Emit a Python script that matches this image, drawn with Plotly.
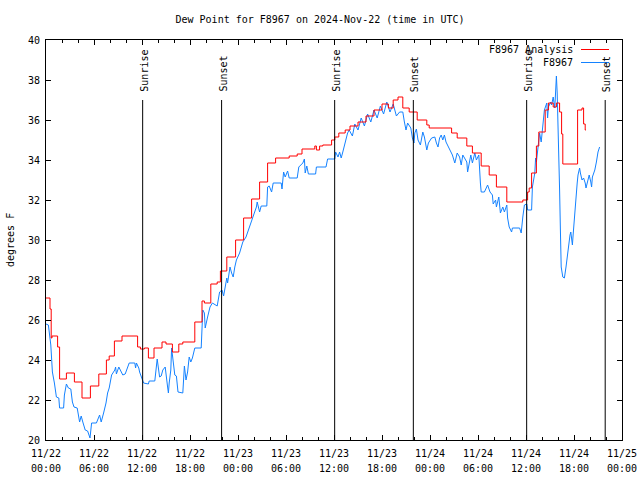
import plotly.graph_objects as go
import pandas as pd

START = pd.Timestamp("2024-11-22 00:00")

# F8967 Analysis (step series): hours since start, dew point (F)
analysis_hours = [0.0, 0.5, 0.65, 0.75, 1.45, 1.7, 2.55, 3.55, 4.5, 5.55, 6.6, 7.55, 7.9, 8.55, 9.5,
                  11.45, 11.8, 12.3, 12.8, 13.5, 14.5, 15.0, 15.8, 16.6, 17.1, 18.6, 19.5, 19.8, 20.6,
                  21.4, 21.8, 22.6, 23.7, 24.7, 25.7, 26.7, 27.7, 28.7, 30.4, 31.4, 32.0, 33.6, 33.8,
                  34.2, 34.6, 35.7, 36.1, 36.6, 37.4, 38.0, 39.0, 40.0, 41.0, 42.0, 42.8, 43.4, 44.0,
                  44.6, 45.4, 46.4, 47.6, 47.9, 50.7, 51.4, 52.6, 53.3, 54.4, 55.4, 56.3, 57.6, 59.6,
                  60.2, 60.4, 60.7, 61.3, 61.6, 62.1, 62.4, 62.8, 63.4, 63.8, 64.2, 64.45, 64.6, 66.45,
                  67.0, 67.2, 67.4, 67.5]
analysis_vals = [27.1, 26.55, 25.1, 25.2, 24.65, 23.05, 23.35, 22.9, 22.1, 22.7, 23.3, 24.0, 24.2, 24.95, 25.2,
                 24.65, 24.55, 24.6, 24.1, 24.6, 24.9, 24.8, 24.4, 24.8, 24.9, 25.9, 26.95, 26.85, 27.8,
                 27.9, 28.45, 29.15, 30.0, 31.1, 32.05, 32.9, 33.85, 34.1, 34.2, 34.3, 34.55, 34.7, 34.5,
                 34.7, 34.75, 35.0, 35.15, 35.35, 35.5, 35.7, 35.9, 36.2, 36.5, 36.8, 36.6, 37.0, 37.15,
                 36.6, 36.4, 36.0, 35.75, 35.6, 35.35, 35.1, 34.7, 34.35, 33.7, 33.25, 32.65, 31.9, 32.0,
                 32.4, 32.6, 33.35, 34.7, 35.4, 35.4, 36.5, 36.85, 36.65, 36.85, 36.4, 35.3, 33.8, 36.5,
                 36.6, 35.8, 35.5, 35.5]

# F8967 observations
obs_hours = [0.0, 0.3, 0.6, 0.7, 0.8, 1.05, 1.3, 1.6, 1.7, 2.2, 2.3, 2.55, 2.8, 3.1, 3.3, 3.5, 3.9, 4.2, 4.4,
             4.6, 4.9, 5.2, 5.5, 5.7, 6.3, 6.7, 6.9, 7.2, 7.5, 7.7, 7.9, 8.2, 8.6, 8.7, 8.8, 9.1, 9.4, 9.6,
             9.9, 10.2, 10.4, 11.1, 11.2, 11.3, 11.6, 11.7, 11.9, 12.2, 12.8, 12.9, 13.6, 13.8, 13.9, 14.2,
             14.4, 14.6, 14.9, 15.2, 15.3, 15.4, 15.6, 15.7, 15.8, 16.1, 16.3, 16.5, 17.1, 17.2, 17.3, 17.5,
             17.7, 17.9, 18.1, 18.3, 18.6, 19.4, 19.6, 19.8, 19.9, 20.2, 20.5, 20.8, 21.2, 21.4, 21.7, 22.0,
             22.2, 22.6, 22.7, 23.0, 23.2, 23.4, 23.6, 23.8, 24.2, 24.6, 25.0, 25.4, 25.8, 26.3, 26.4, 26.7,
             26.9, 27.6, 27.7, 27.9, 28.2, 28.4, 29.4, 29.5, 29.7, 29.9, 30.2, 30.4, 31.4, 31.6, 32.1, 32.3,
             32.4, 32.6, 32.8, 33.7, 33.8, 35.0, 35.2, 36.1, 36.2, 36.5, 36.7, 36.9, 37.1, 37.4, 37.7, 37.9,
             38.3, 38.6, 39.0, 39.4, 39.8, 40.2, 40.6, 41.0, 41.4, 41.8, 42.2, 42.6, 43.0, 43.4, 43.8, 44.2,
             44.6, 44.8, 45.0, 45.2, 45.6, 45.8, 46.0, 46.1, 46.3, 46.5, 46.8, 47.1, 47.3, 47.6, 47.8, 48.2,
             48.6, 48.8, 49.0, 49.2, 49.4, 49.6, 49.8, 50.0, 50.4, 50.8, 51.1, 51.4, 51.7, 51.9, 52.1, 52.6,
             52.7, 53.1, 53.3, 53.6, 53.8, 54.1, 54.3, 54.4, 54.8, 55.1, 55.2, 55.5, 55.8, 55.9, 56.2, 56.3,
             56.6, 56.8, 57.1, 57.3, 57.6, 57.7, 57.9, 58.2, 58.3, 59.2, 59.4, 59.6, 59.8, 60.1, 60.2, 60.7,
             60.8, 61.1, 61.2, 61.3, 61.5, 61.7, 61.9, 62.1, 62.2, 62.3, 62.6, 62.7, 62.8, 63.1, 63.2, 63.4,
             63.6, 63.7, 63.8, 63.9, 64.1, 64.2, 64.3, 64.4, 64.6, 64.8, 65.0, 65.1, 65.3, 65.5, 65.6, 65.8,
             65.9, 66.1, 66.3, 66.4, 66.5, 66.7, 66.8, 67.0, 67.2, 67.4, 67.5, 67.7, 67.9, 68.1, 68.2, 68.3,
             68.6, 68.8, 69.0, 69.2]
obs_vals = [25.8, 25.75, 24.75, 24.0, 23.4, 22.85, 22.15, 22.1, 21.6, 21.6, 22.25, 22.8, 22.6, 22.55, 21.9, 21.65,
            21.6, 20.9, 21.2, 20.9, 20.5, 20.45, 20.1, 20.85, 20.85, 21.25, 20.9, 21.35, 21.85, 22.35, 22.6,
            23.25, 23.5, 23.65, 23.3, 23.65, 23.35, 23.25, 23.3, 23.65, 23.85, 23.85, 23.6, 23.85, 23.6, 23.4,
            23.15, 22.85, 22.8, 22.95, 22.95, 23.65, 24.05, 23.15, 23.2, 23.5, 23.65, 22.65, 22.35, 22.85, 23.5,
            24.6, 24.25, 23.25, 23.2, 22.4, 22.35, 23.25, 23.7, 23.0, 23.4, 24.15, 23.9, 24.1, 24.6, 24.6, 26.5,
            26.35, 25.6, 26.15, 26.65, 26.85, 26.75, 26.7, 27.4, 27.5, 27.2, 28.1, 27.85, 28.65, 28.35, 28.15,
            28.65, 29.0, 29.35, 29.9, 30.15, 30.6, 31.0, 31.65, 31.9, 31.4, 31.7, 31.7, 32.65, 32.7, 32.4, 32.85,
            32.85, 32.55, 33.4, 33.15, 33.45, 33.1, 33.1, 33.65, 33.85, 34.05, 33.35, 33.7, 33.3, 33.3, 33.65,
            33.65, 34.05, 34.05, 34.4, 34.15, 34.4, 34.1, 34.4, 34.85, 35.35, 35.5, 35.2, 35.8, 35.5, 36.1, 35.7,
            36.3, 35.9, 36.5, 36.1, 36.7, 36.3, 36.9, 36.4, 36.8, 36.2, 36.4, 36.4, 35.9, 35.5, 35.85, 35.6, 35.1,
            34.85, 35.35, 35.55, 35.0, 34.75, 35.4, 35.15, 34.5, 34.85, 35.1, 35.15, 34.85, 34.65, 35.1, 35.25,
            35.0, 35.25, 34.9, 34.6, 34.25, 33.85, 34.35, 34.15, 33.75, 34.25, 33.9, 33.4, 34.25, 33.85, 34.35,
            34.0, 34.25, 32.85, 32.4, 32.4, 32.7, 32.75, 32.4, 32.25, 31.8, 32.0, 31.65, 32.15, 31.35, 31.65,
            31.4, 31.75, 31.1, 30.65, 30.4, 30.6, 30.6, 30.35, 31.15, 31.75, 31.8, 31.5, 31.5, 32.65, 33.35, 34.1,
            33.9, 34.65, 35.35, 34.9, 35.65, 35.85, 36.5, 36.85, 36.1, 36.65, 36.9, 36.75, 37.15, 36.6, 37.5,
            38.2, 37.35, 34.65, 32.5, 30.5, 28.65, 28.15, 28.1, 28.65, 29.0, 29.65, 30.25, 30.4, 29.75, 30.3,
            31.5, 32.25, 32.85, 33.25, 33.6, 33.35, 33.0, 33.1, 32.85, 32.6, 33.0, 33.25, 32.9, 32.65, 33.15,
            33.5, 33.9, 34.4, 34.65]

# Sun events (UTC)
sun_times = ["2024-11-22 12:05", "2024-11-22 21:57", "2024-11-23 12:05",
             "2024-11-23 21:55", "2024-11-24 12:05", "2024-11-24 21:54"]
sun_labels = ["Sunrise", "Sunset", "Sunrise", "Sunset", "Sunrise", "Sunset"]

legend_names = ["F8967 Analysis", "F8967"]
colors = ["#ff0000", "#1482ff"]

X_RANGE = ["2024-11-22 00:00", "2024-11-25 00:00"]

FONT = "DejaVu Sans Mono"
L, R, T, B = 46, 18, 40, 40
PW, PH = 640 - L - R, 480 - T - B


def px(xp):
    return (xp - L) / PW


def py(yp):
    return (480 - B - yp) / PH


t_an = START + pd.to_timedelta(analysis_hours, unit="h")
t_ob = START + pd.to_timedelta(obs_hours, unit="h")

fig = go.Figure()
# analysis drawn on the matching overlay axis x2 (carries the HH:MM tick row)
fig.add_trace(go.Scatter(x=t_an, y=analysis_vals, mode="lines", line=dict(color=colors[0], width=1, shape="hv"),
                         name=legend_names[0], showlegend=False, xaxis="x2", yaxis="y"))
fig.add_trace(go.Scatter(x=t_ob, y=obs_vals, mode="lines", line=dict(color=colors[1], width=1),
                         name=legend_names[1], showlegend=False))

for t, lab in zip(sun_times, sun_labels):
    fig.add_shape(type="line", xref="x", yref="y domain", x0=t, x1=t, y0=0, y1=0.85,
                  line=dict(color="black", width=1))
    fig.add_annotation(x=t, y=0.865, xref="x", yref="y domain", text=lab, textangle=-90,
                       showarrow=False, xanchor="center", yanchor="bottom", xshift=1,
                       font=dict(family=FONT, size=10, color="black"))

# legend (gnuplot style: text left, sample right)
for i, (name, col) in enumerate(zip(legend_names, colors)):
    yc = 49.5 + 13 * i
    fig.add_annotation(x=px(575), y=py(yc), xref="paper", yref="paper", text=name, showarrow=False,
                       xanchor="right", yanchor="middle", font=dict(family=FONT, size=10, color="black"))
    fig.add_shape(type="line", xref="paper", yref="paper", x0=px(581), x1=px(609), y0=py(yc), y1=py(yc),
                  line=dict(color=col, width=1))

fig.add_annotation(x=0, y=0.5, xref="paper", yref="paper", text="degrees F", textangle=-90,
                   showarrow=False, xanchor="center", yanchor="middle", xshift=10 - L,
                   font=dict(family=FONT, size=10, color="black"))

tickfont = dict(family=FONT, size=10, color="black")
axis_common = dict(showline=True, linecolor="black", linewidth=1, mirror="ticks", ticks="inside",
                   tickcolor="black", showgrid=False, zeroline=False, tickfont=tickfont, automargin=False)

fig.update_layout(
    width=640, height=480,
    margin=dict(l=L, r=R, t=T, b=B, pad=0, autoexpand=False),
    paper_bgcolor="white", plot_bgcolor="white",
    title=dict(text="Dew Point for F8967 on 2024-Nov-22 (time in UTC)", x=px(334), xanchor="center",
               y=1 - 19 / 480, yanchor="middle", font=dict(family=FONT, size=10, color="black")),
    xaxis=dict(type="date", range=X_RANGE, dtick=6 * 3600 * 1000,
               tick0=X_RANGE[0], tickformat="%m/%d", ticklen=5, ticklabelstandoff=4,
               minor=dict(dtick=2 * 3600 * 1000, ticks="inside", ticklen=3, tickcolor="black"),
               **axis_common),
    xaxis2=dict(type="date", range=X_RANGE, dtick=6 * 3600 * 1000, tick0=X_RANGE[0],
                tickformat="%H:%M", overlaying="x", anchor="y", side="bottom", matches="x",
                showline=False, ticks="", showgrid=False, zeroline=False, tickfont=tickfont,
                ticklabelstandoff=21, automargin=False),
    yaxis=dict(range=[20, 40], dtick=2, ticklen=5, ticklabelstandoff=3, **axis_common),
    showlegend=False,
)

fig.write_html("out.html", post_script="document.body.style.margin='0px';",
               config={"displayModeBar": False})
